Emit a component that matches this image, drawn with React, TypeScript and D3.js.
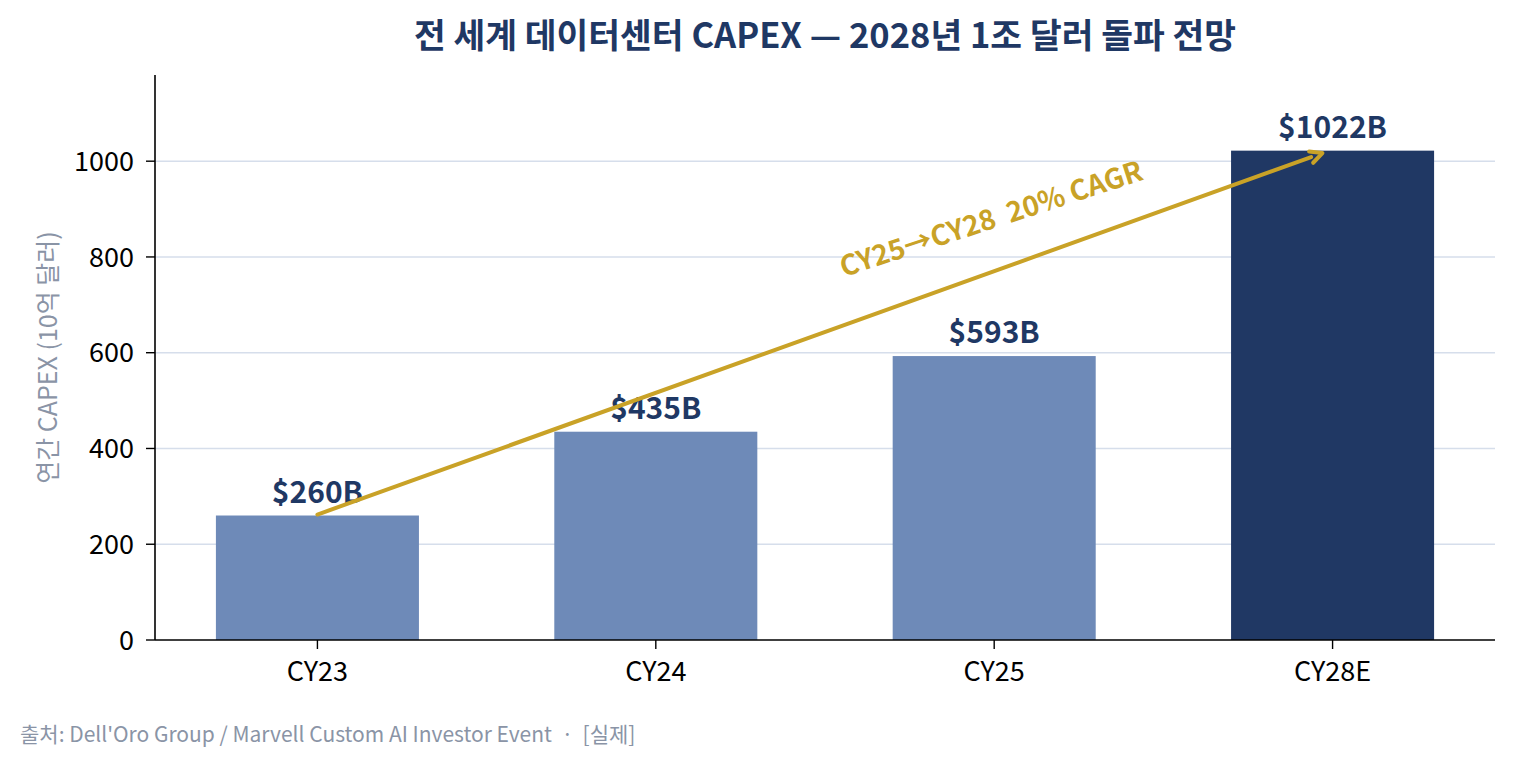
import * as d3 from "d3";

const categories = ["CY23", "CY24", "CY25", "CY28E"];
const values = [260, 435, 593, 1022];
const barColors = ["#6e8ab8", "#6e8ab8", "#6e8ab8", "#203864"];
const yTicks = [0, 200, 400, 600, 800, 1000];
const arrowFrom = { i: 0, v: 262 };
const arrowTo = { i: 2.97, v: 1017 };
const cagrLabel = "CY25→CY28  20% CAGR";
const title = "전 세계 데이터센터 CAPEX — 2028년 1조 달러 돌파 전망";
const yLabel = "연간 CAPEX (10억 달러)";
const footer = "출처: Dell'Oro Group / Marvell Custom AI Investor Event  ·  [실제]";

const W = 1514;
const H = 767;
const margin = { top: 75, right: 19, bottom: 127, left: 155 };
const font = "'Noto Sans CJK KR', 'Noto Sans', sans-serif";

export default function App() {
  const x = d3.scaleLinear().domain([-0.48, 3.48]).range([margin.left, W - margin.right]);
  const y = d3.scaleLinear().domain([0, 1180]).range([H - margin.bottom, margin.top]);
  const barW = x(0.6) - x(0);
  const navy = "#1f3864";
  const gold = "#c9a227";

  const ax1 = x(arrowFrom.i), ay1 = y(arrowFrom.v);
  const ax2 = x(arrowTo.i), ay2 = y(arrowTo.v);
  const ang = Math.atan2(ay2 - ay1, ax2 - ax1);
  const head = 12;
  const hw = 6;
  const hx = ax2 - head * Math.cos(ang);
  const hy = ay2 - head * Math.sin(ang);
  const px = -Math.sin(ang) * hw, py = Math.cos(ang) * hw;

  return (
    <svg width={W} height={H} style={{ position: "absolute", left: 0, top: 0, fontFamily: font }}>
      <rect width={W} height={H} fill="#fff" />
      <text x={(margin.left + W - margin.right) / 2} y={48} textAnchor="middle"
        fontSize={34.5} fontWeight={700} fill={navy}>{title}</text>

      {yTicks.filter(t => t > 0).map(t => (
        <line key={t} x1={margin.left} x2={W - margin.right} y1={y(t)} y2={y(t)}
          stroke="#d6deeb" strokeWidth={1.5} />
      ))}

      {values.map((v, i) => (
        <rect key={i} x={x(i) - barW / 2} y={y(v)} width={barW} height={y(0) - y(v)} fill={barColors[i]} />
      ))}

      {values.map((v, i) => (
        <text key={i} x={x(i)} y={y(v) - 13} textAnchor="middle" fontSize={30} fontWeight={700}
          fill={navy}>{`$${v}B`}</text>
      ))}

      <line x1={ax1} y1={ay1} x2={hx} y2={hy} stroke={gold} strokeWidth={4} strokeLinecap="round" />
      <path d={`M${ax2},${ay2} L${hx + px},${hy + py} M${ax2},${ay2} L${hx - px},${hy - py}`}
        stroke={gold} strokeWidth={4} fill="none" strokeLinecap="round" strokeLinejoin="round" />
      <text transform={`translate(${x(2)},${y(860)}) rotate(-18)`} textAnchor="middle"
        fontSize={28} fontWeight={700} fill={gold} style={{ whiteSpace: "pre" }}>{cagrLabel}</text>

      {/* axes */}
      <line x1={margin.left} x2={margin.left} y1={margin.top} y2={y(0)} stroke="#000" strokeWidth={1.6} />
      <line x1={margin.left} x2={W - margin.right} y1={y(0)} y2={y(0)} stroke="#000" strokeWidth={1.6} />
      {yTicks.map(t => (
        <g key={t}>
          <line x1={margin.left - 9} x2={margin.left} y1={y(t)} y2={y(t)} stroke="#000" strokeWidth={1.4} />
          <text x={margin.left - 21} y={y(t)} dy="0.36em" textAnchor="end" fontSize={27} fill="#000">{t}</text>
        </g>
      ))}
      {categories.map((c, i) => (
        <g key={c}>
          <line x1={x(i)} x2={x(i)} y1={y(0)} y2={y(0) + 9} stroke="#000" strokeWidth={1.4} />
          <text x={x(i)} y={681} textAnchor="middle" fontSize={27} fill="#000">{c}</text>
        </g>
      ))}
      <text transform={`translate(57,${(margin.top + y(0)) / 2}) rotate(-90)`} textAnchor="middle"
        fontSize={25} fill="#8a94a6">{yLabel}</text>

      <text x={20} y={742} fontSize={21} fill="#8a94a6" style={{ whiteSpace: "pre" }}>{footer}</text>
    </svg>
  );
}
